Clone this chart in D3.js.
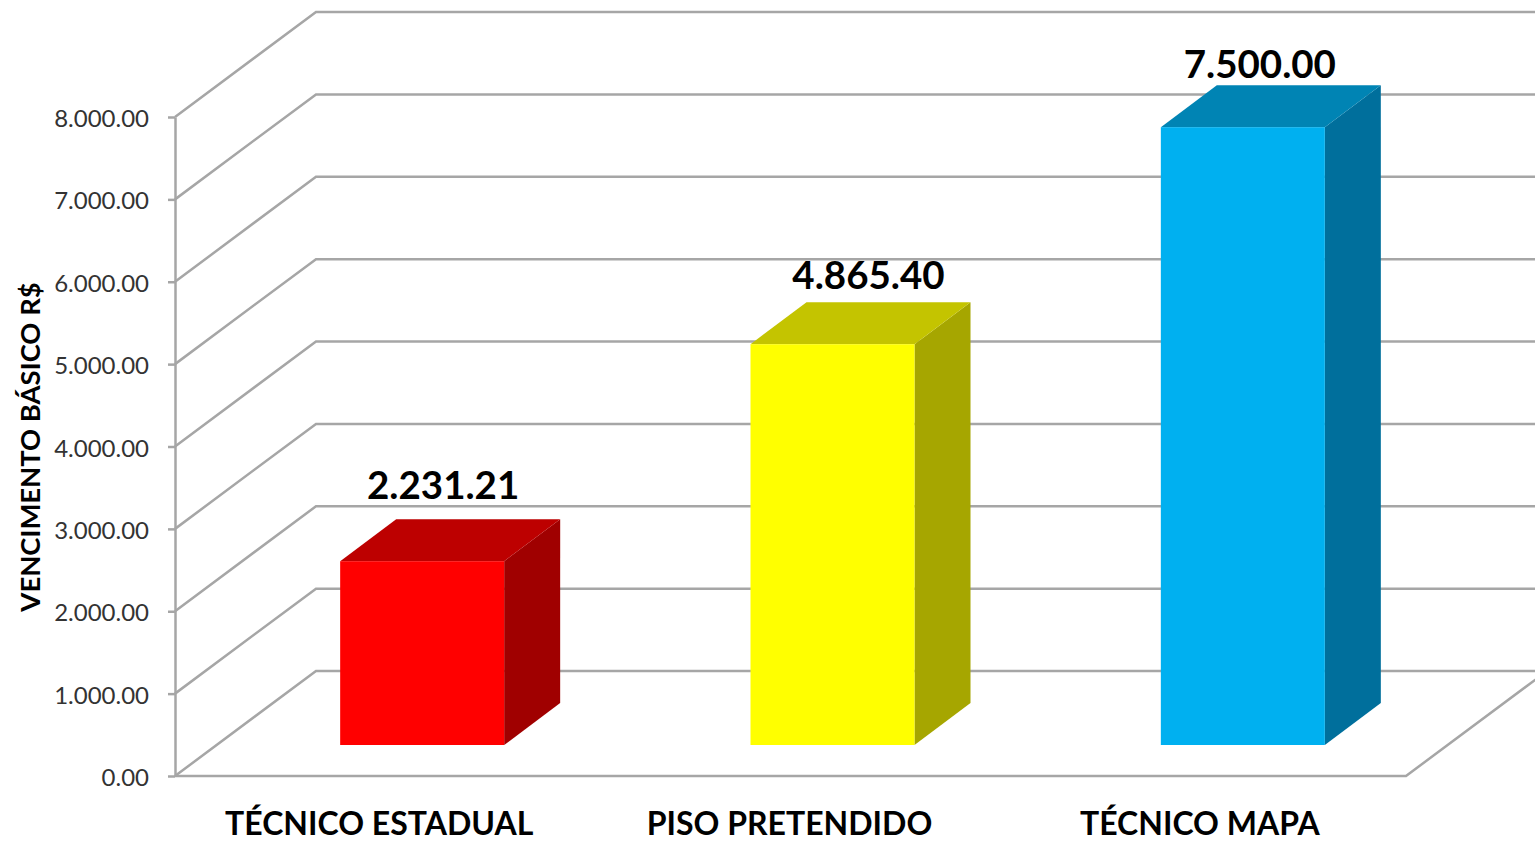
<!DOCTYPE html>
<html>
<head>
<meta charset="utf-8">
<script src="https://cdn.jsdelivr.net/npm/d3@7"></script>
<style>
html, body { margin: 0; padding: 0; background: #fff; overflow: hidden; }
text { font-family: Lato, "Open Sans", sans-serif; }
</style>
</head>
<body>
<div id="chart"></div>
<script>
const categories = ["TÉCNICO ESTADUAL", "PISO PRETENDIDO", "TÉCNICO MAPA"];
const values = [2231.21, 4865.40, 7500.00];
const y_ticks = [0, 1000, 2000, 3000, 4000, 5000, 6000, 7000, 8000];
const y_title = "VENCIMENTO BÁSICO R$";

const front_colors = ["#ff0000", "#ffff00", "#00b0f0"];
const top_colors = ["#bd0000", "#c4c400", "#0084b4"];
const side_colors = ["#a00000", "#a6a600", "#006f9c"];

const width = 1535;
const height = 841;

// oblique offset of the back wall and of the bar depth
const wall_dx = 141;
const wall_dy = -105;
const bar_dx = 56;
const bar_dy = -42;
const bar_shift = 42;
const bar_w = 164;
const bar_bottom = 745;
const grid_color = "#a6a6a6";

// values use dots for both separators, as in the source chart
const fmt = d3.formatLocale({decimal: ".", thousands: ".", grouping: [3], currency: ["", ""]}).format(",.2f");

const svg = d3.select("#chart").append("svg")
    .attr("width", width)
    .attr("height", height);

const y = d3.scaleLinear().domain([0, 8000]).range([776, 117]);
const x = d3.scaleBand().domain(categories).range([175, 1406]);

//back wall lines and the slanted side wall lines
const grid = svg.append("g")
    .attr("fill", "none")
    .attr("stroke", grid_color)
    .attr("stroke-width", 2.5);
grid.selectAll("path")
    .data(y_ticks)
    .enter()
    .append("path")
    .attr("d", (d) => {
        var p = d3.path();
        p.moveTo(x.range()[0], y(d));
        p.lineTo(x.range()[0] + wall_dx, y(d) + wall_dy);
        p.lineTo(width + 5, y(d) + wall_dy);
        return p.toString();
    });

//floor front edge and right edge
const floor = d3.path();
floor.moveTo(x.range()[0], y(0));
floor.lineTo(x.range()[1], y(0));
floor.lineTo(x.range()[1] + wall_dx, y(0) + wall_dy);
grid.append("path").attr("d", floor.toString());

//y axis
const axis = svg.append("g")
    .attr("transform", "translate(175,0)")
    .call(d3.axisLeft(y).tickValues(y_ticks).tickFormat(fmt).tickSize(7).tickSizeOuter(0).tickPadding(19));
axis.selectAll("path, line").attr("stroke", grid_color).attr("stroke-width", 2.5);
axis.selectAll("text")
    .attr("font-family", "Lato, 'Open Sans', sans-serif")
    .attr("font-size", 24)
    .attr("dy", "0.4em")
    .attr("fill", "#333333");

//bars: side, top, front
const bars = svg.selectAll("g.bar")
    .data(values)
    .enter()
    .append("g")
    .attr("class", "bar");

function left(i) {
    return x(categories[i]) + x.bandwidth() / 2 + bar_shift - bar_w / 2;
}
function top_y(d) {
    return bar_bottom - (y(0) - y(d));
}

bars.append("polygon")
    .attr("fill", (d, i) => side_colors[i])
    .attr("points", (d, i) => {
        var r = left(i) + bar_w;
        return [[r, bar_bottom], [r + bar_dx, bar_bottom + bar_dy], [r + bar_dx, top_y(d) + bar_dy], [r, top_y(d)]].join(" ");
    });
bars.append("polygon")
    .attr("fill", (d, i) => top_colors[i])
    .attr("points", (d, i) => {
        var l = left(i), t = top_y(d);
        return [[l, t], [l + bar_dx, t + bar_dy], [l + bar_w + bar_dx, t + bar_dy], [l + bar_w, t]].join(" ");
    });
bars.append("rect")
    .attr("x", (d, i) => left(i))
    .attr("y", (d) => top_y(d))
    .attr("width", bar_w)
    .attr("height", (d) => bar_bottom - top_y(d))
    .attr("fill", (d, i) => front_colors[i]);

//value labels were placed by hand in the source, so each has its own nudge
const label_nudge = [[21, -20], [36, -13], [17, -7]];
bars.append("text")
    .attr("x", (d, i) => left(i) + bar_w / 2 + label_nudge[i][0])
    .attr("y", (d, i) => top_y(d) + bar_dy + label_nudge[i][1])
    .attr("text-anchor", "middle")
    .attr("font-size", 38.5)
    .attr("font-weight", "bold")
    .attr("fill", "#000")
    .text((d) => fmt(d));

//category labels
svg.selectAll("text.cat")
    .data(categories)
    .enter()
    .append("text")
    .attr("class", "cat")
    .attr("x", (d) => x(d) + x.bandwidth() / 2 - 1)
    .attr("y", 835)
    .attr("text-anchor", "middle")
    .attr("font-size", 32)
    .attr("font-weight", "bold")
    .attr("fill", "#000")
    .text((d) => d);

//y axis title
svg.append("text")
    .attr("transform", "translate(40,447) rotate(-90)")
    .attr("text-anchor", "middle")
    .attr("font-size", 27.4)
    .attr("font-weight", "bold")
    .attr("fill", "#000")
    .text(y_title);
</script>
</body>
</html>
